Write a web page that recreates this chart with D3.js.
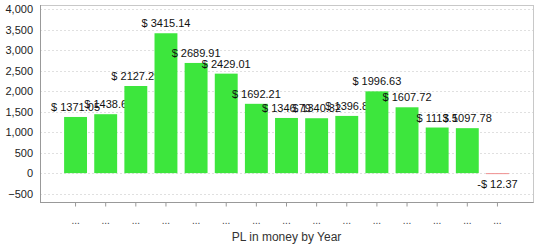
<!DOCTYPE html>
<html>
<head>
<meta charset="utf-8">
<script src="https://cdn.jsdelivr.net/npm/d3@7"></script>
<style>
  body { margin: 0; background: #fff; }
  svg { font-family: "Liberation Sans", Arial, sans-serif; }
</style>
</head>
<body>
<script>
// one bar per year, labels on the x axis are truncated to "..."
const years = ["y1", "y2", "y3", "y4", "y5", "y6", "y7", "y8", "y9", "y10", "y11", "y12", "y13", "y14", "y15"];
const values = [1371.05, 1438.6, 2127.29, 3415.14, 2689.91, 2429.01, 1692.21, 1346.79, 1340.32, 1396.8, 1996.63, 1607.72, 1113.5, 1097.78, -12.37];
const yTicks = [-500, 0, 500, 1000, 1500, 2000, 2500, 3000, 3500, 4000];
const title = "PL in money by Year";

const width = 537, height = 247;
const plot = {left: 40, right: 533, top: 5, bottom: 202};

const svg = d3.select("body").append("svg")
  .attr("width", width)
  .attr("height", height);

const x = d3.scaleBand()
  .domain(years)
  .range([plot.left, plot.right])
  .paddingInner(0.24)
  .paddingOuter(0.8);

const y = d3.scaleLinear()
  .domain([-705, 4105])
  .range([plot.bottom, plot.top]);

// gridlines
svg.append("g")
  .selectAll("line")
  .data(yTicks)
  .join("line")
  .attr("x1", plot.left)
  .attr("x2", plot.right)
  .attr("y1", d => Math.round(y(d)) + 0.5)
  .attr("y2", d => Math.round(y(d)) + 0.5)
  .attr("stroke", "#e0e0e0")
  .attr("stroke-dasharray", "2,2");

// frame
svg.append("rect")
  .attr("x", plot.left + 0.5)
  .attr("y", plot.top + 0.5)
  .attr("width", plot.right - plot.left)
  .attr("height", plot.bottom - plot.top)
  .attr("fill", "none")
  .attr("stroke", "#c8c8c8");

svg.append("line")
  .attr("x1", plot.left + 0.5).attr("x2", plot.left + 0.5)
  .attr("y1", plot.top).attr("y2", plot.bottom + 0.5)
  .attr("stroke", "#999");
svg.append("line")
  .attr("x1", plot.left).attr("x2", plot.right + 0.5)
  .attr("y1", plot.bottom + 0.5).attr("y2", plot.bottom + 0.5)
  .attr("stroke", "#999");

// y axis labels
const yAxis = d3.axisLeft(y)
  .tickValues(yTicks)
  .tickSize(0)
  .tickPadding(7)
  .tickFormat(d3.format(","));

svg.append("g")
  .attr("transform", "translate(" + plot.left + ",0)")
  .call(yAxis)
  .call(g => g.select(".domain").remove())
  .call(g => g.selectAll("text").attr("font-size", 11).attr("fill", "#222")
    .attr("font-family", "Liberation Sans, Arial, sans-serif"));

// x axis
const xAxis = d3.axisBottom(x)
  .tickSize(4)
  .tickPadding(10)
  .tickFormat(() => "...");

svg.append("g")
  .attr("transform", "translate(0," + (plot.bottom + 0.5) + ")")
  .call(xAxis)
  .call(g => g.select(".domain").remove())
  .call(g => g.selectAll("line").attr("stroke", "#999"))
  .call(g => g.selectAll("text").attr("font-size", 10).attr("fill", "#444")
    .attr("font-family", "Liberation Sans, Arial, sans-serif"));

// bars and labels drawn in order, so a later bar can cover an earlier label
const fmt = d => (d < 0 ? "-$ " : "$ ") + Math.abs(d).toString();
const items = svg.append("g")
  .selectAll("g")
  .data(values)
  .join("g");

items.append("rect")
  .attr("x", (d, i) => x(years[i]))
  .attr("width", x.bandwidth())
  .attr("y", d => d >= 0 ? y(d) : y(0))
  .attr("height", d => Math.max(1, Math.abs(y(d) - y(0))))
  .attr("fill", d => d >= 0 ? "#3de63d" : "#f09090");

items.append("text")
  .attr("x", (d, i) => x(years[i]) + x.bandwidth() / 2)
  .attr("y", d => d >= 0 ? y(d) - 6 : y(0) + 15)
  .attr("text-anchor", "middle")
  .attr("font-size", 11)
  .attr("fill", "#111")
  .text(fmt);

// title
svg.append("text")
  .attr("x", (plot.left + plot.right) / 2)
  .attr("y", 241)
  .attr("text-anchor", "middle")
  .attr("font-size", 12)
  .attr("fill", "#333")
  .text(title);
</script>
</body>
</html>
